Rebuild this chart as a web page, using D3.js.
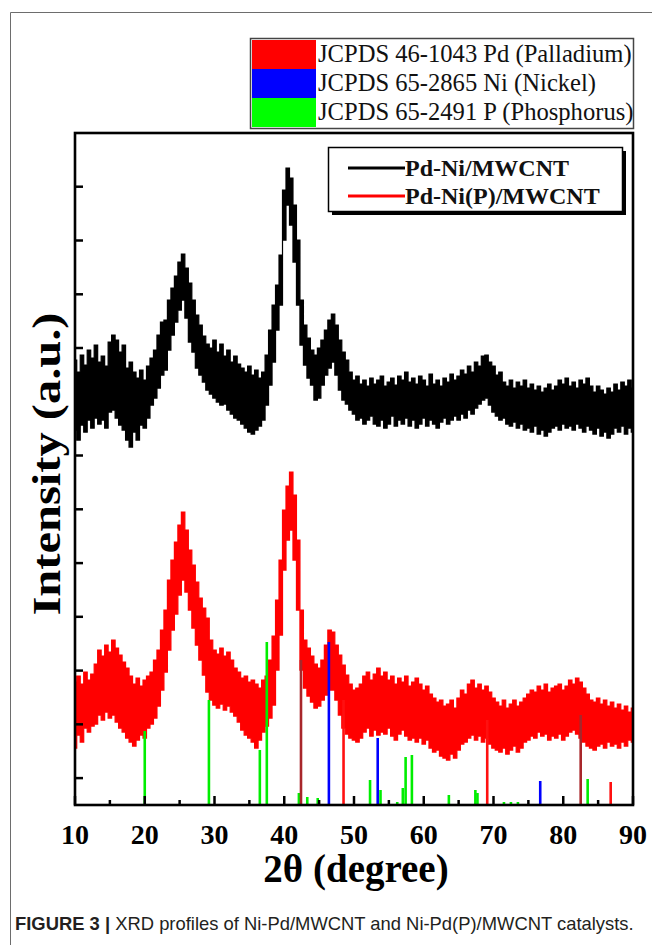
<!DOCTYPE html>
<html><head><meta charset="utf-8">
<script src="https://cdn.jsdelivr.net/npm/d3@7"></script>
<style>
html,body{margin:0;padding:0;background:#fff;}
svg{display:block;}
</style></head>
<body>
<svg id="chart" width="652" height="945"></svg>
<script>
// ---------- DATA ----------
const thetaStart = 10, thetaStep = 0.5;   // sampling grid of the traces (2θ, degrees)
const xTickLabels = ["10","20","30","40","50","60","70","80","90"];
const xTickValues = [10,20,30,40,50,60,70,80,90];
const xMinorTicks = [15,25,35,45,55,65,75,85];
const yTickValues = [0,53.76,107.5,161.3,215,268.8,322.6,376.3,430.1,483.8,537.6,591.4];

// Pd-Ni/MWCNT (black) : upper / lower envelope of the noisy trace, a.u.
const blackHi = [
 418,406,423,413,428,420,433,416,422,412,
 436,443,438,426,433,410,416,406,400,408,
 398,412,420,428,443,456,458,478,490,502,
 516,524,510,495,478,463,453,442,434,430,
 438,426,434,422,428,416,422,414,410,406,
 412,403,408,400,406,423,448,473,493,523,
 588,610,600,573,538,478,453,440,428,423,
 430,438,448,458,464,453,438,426,418,406,
 398,402,394,398,392,400,394,398,402,392,
 396,400,393,402,398,406,396,400,394,402,
 398,392,404,394,398,392,400,396,404,398,
 402,408,404,412,406,416,412,422,423,416,
 412,403,406,396,392,398,390,396,392,398,
 390,394,388,392,386,390,394,388,392,398,
 394,400,392,396,390,398,394,400,392,386,
 392,388,384,390,386,394,388,396,392,398,
 390];
const blackLo = [
 348,338,353,346,358,350,360,354,358,350,
 366,368,360,353,348,338,331,346,338,353,
 350,360,373,380,390,403,408,428,443,456,
 468,478,460,436,426,410,403,396,388,384,
 380,376,373,374,368,364,360,358,354,350,
 346,344,348,352,358,373,393,416,448,473,
 538,573,553,516,473,433,413,400,393,378,
 380,393,403,410,416,403,388,378,374,368,
 364,358,360,354,358,362,354,352,358,350,
 354,362,352,358,354,360,352,358,350,354,
 360,352,358,354,350,356,360,354,358,362,
 358,364,360,368,364,370,374,378,380,373,
 366,362,358,360,354,352,356,350,354,348,
 350,346,352,344,348,342,346,350,352,348,
 354,350,352,348,354,350,346,352,348,344,
 350,342,346,340,344,350,346,352,344,350,
 346];

// Pd-Ni(P)/MWCNT (red)
const redHi = [
 96,102,94,106,98,104,114,128,122,133,
 126,138,130,123,116,110,102,94,100,92,
 98,102,106,118,128,148,168,198,218,236,
 253,266,248,228,213,196,180,170,160,138,
 128,124,130,122,126,118,110,106,100,102,
 96,98,94,90,98,102,118,142,178,218,
 268,292,306,283,238,168,138,130,122,114,
 110,118,133,148,146,133,123,113,103,94,
 88,90,94,102,106,98,104,110,102,106,
 98,102,94,100,96,102,92,96,100,94,
 88,92,84,80,76,78,72,74,78,70,
 80,88,84,94,98,90,94,88,92,86,
 80,76,72,78,70,74,78,72,76,80,
 84,88,86,92,88,94,86,90,92,94,
 88,92,98,94,100,96,90,84,78,76,
 80,74,78,72,76,70,74,68,72,66,
 70];
const redLo = [
 30,43,36,50,46,52,54,63,58,66,
 60,63,56,50,46,40,36,32,38,43,
 40,50,54,60,72,88,106,128,148,164,
 183,198,186,168,150,133,118,103,86,78,
 73,70,74,68,72,66,62,56,48,43,
 40,36,30,38,46,52,60,73,108,143,
 208,238,248,218,168,108,90,82,76,70,
 72,78,83,88,88,78,63,50,44,40,
 38,36,40,46,50,42,48,43,46,44,
 50,42,38,44,48,42,38,40,36,40,
 34,38,30,26,28,22,20,18,24,20,
 28,34,36,40,43,38,42,36,40,34,
 30,28,26,30,24,28,32,26,30,36,
 38,42,40,46,42,44,38,42,40,44,
 38,42,46,48,44,40,36,32,30,28,
 32,34,30,36,32,34,30,36,32,38,
 36];

// Reference patterns (stick positions 2θ and relative heights)
const pdTheta = [42.4, 48.5, 69.1, 82.5, 86.8];
const pdInt   = [145, 105, 85, 90, 23];
const niTheta = [46.4, 53.4, 76.7];
const niInt   = [163, 67, 24];
const pTheta  = [20.0, 29.2, 36.5, 37.5, 42.1, 43.3, 44.8, 52.3, 53.8, 56.2, 57.0, 57.4, 58.3, 63.6, 67.4, 67.7, 71.5, 72.5, 73.5, 83.5];
const pInt    = [74, 105, 55, 163, 12, 8, 7, 25, 15, 3, 17, 48, 50, 10, 15, 12, 3, 3, 3, 26];

const refLegend = ["JCPDS 46-1043 Pd (Palladium)", "JCPDS 65-2865 Ni (Nickel)", "JCPDS 65-2491 P (Phosphorus)"];
const seriesNames = ["Pd-Ni/MWCNT", "Pd-Ni(P)/MWCNT"];

// ---------- DRAW ----------
const svg = d3.select("#chart");
const L = 75, R = 633, T = 133, B = 805;
const x = d3.scaleLinear().domain([10, 90]).range([L, R]);
const y = d3.scaleLinear().domain([-26.9, 645.1]).range([B, T]);
const yRef = d3.scaleLinear().domain([0, 672]).range([B, T]);
const serif = "'Liberation Serif','Times New Roman',Times,serif";
const sans = "'Liberation Sans',Arial,Helvetica,sans-serif";

// outer figure frame
svg.append("path").attr("d", `M10.5,945 V12.5 H652`).attr("fill","none").attr("stroke","#6d6d6d").attr("stroke-width",1);

const thetaOf = i => thetaStart + i*thetaStep;
function band(hi, lo, color){
  const pts = hi.map((h,i)=>({t:thetaOf(i), h, l:lo[i]}));
  const area = d3.area().curve(d3.curveStep).x(d=>x(d.t)).y0(d=>y(d.l)).y1(d=>y(d.h));
  svg.append("path").datum(pts).attr("d", area).attr("fill", color).attr("stroke", color).attr("stroke-width",1.2);
}
band(blackHi, blackLo, "#000");
band(redHi, redLo, "#ff0000");

// reference sticks
function sticks(th, inten, color, dark){
  svg.append("g").selectAll("line").data(th).join("line")
    .attr("x1", d=>x(d)).attr("x2", d=>x(d))
    .attr("y1", yRef(0)).attr("y2", (d,i)=>yRef(inten[i]))
    .attr("stroke", (d,i)=> dark && dark.has(i) ? "#a8262a" : color).attr("stroke-width", 2.6);
}
sticks(pTheta, pInt, "#00ee00");
sticks(niTheta, niInt, "#0000ff");
sticks(pdTheta, pdInt, "#ff1010", new Set([0,3]));

// axes ticks (inward)
const gx = svg.append("g");
gx.selectAll("line.maj").data(xTickValues).join("line").attr("class","maj")
  .attr("x1",d=>x(d)).attr("x2",d=>x(d)).attr("y1",B).attr("y2",B-9).attr("stroke","#000").attr("stroke-width",2.5);
gx.selectAll("line.min").data(xMinorTicks).join("line").attr("class","min")
  .attr("x1",d=>x(d)).attr("x2",d=>x(d)).attr("y1",B).attr("y2",B-5).attr("stroke","#000").attr("stroke-width",2.5);
gx.selectAll("text").data(xTickValues).join("text")
  .attr("x",d=>x(d)).attr("y",B+39).attr("text-anchor","middle")
  .attr("font-family",serif).attr("font-weight","bold").attr("font-size",28)
  .text((d,i)=>xTickLabels[i]);
const gy = svg.append("g");
gy.selectAll("line").data(yTickValues).join("line")
  .attr("x1",L).attr("x2",L+8).attr("y1",d=>y(d)).attr("y2",d=>y(d)).attr("stroke","#000").attr("stroke-width",2.5);

// frame
svg.append("rect").attr("x",L).attr("y",T).attr("width",R-L).attr("height",B-T)
  .attr("fill","none").attr("stroke","#000").attr("stroke-width",2.6);

// axis titles
svg.append("text").attr("x",(L+R)/2 + 2).attr("y",882).attr("text-anchor","middle")
  .attr("font-family",serif).attr("font-weight","bold").attr("font-size",39).text("2θ (degree)");
svg.append("text").attr("transform",`translate(60,${464}) rotate(-90)`).attr("text-anchor","middle")
  .attr("font-family",serif).attr("font-weight","bold").attr("font-size",40)
  .attr("textLength",303).attr("lengthAdjust","spacingAndGlyphs").text("Intensity (a.u.)");

// reference legend (top)
const lg = svg.append("g");
const lgColors = ["#ff0000","#0000ff","#00ff00"];
lg.append("rect").attr("x",250.5).attr("y",38.5).attr("width",383).attr("height",90).attr("fill","#fff").attr("stroke","#444").attr("stroke-width",1.5);
refLegend.forEach((t,i)=>{
  lg.append("rect").attr("x",252).attr("y",40+i*29).attr("width",64).attr("height",29).attr("fill",lgColors[i]);
  lg.append("text").attr("x",318).attr("y",62+i*29).attr("font-family",serif).attr("font-size",24.6).attr("fill","#111").text(t);
});

// series legend
const sl = svg.append("g");
sl.append("rect").attr("x",332).attr("y",151).attr("width",294).attr("height",64).attr("fill","#000");
sl.append("rect").attr("x",328.5).attr("y",147.5).attr("width",294).attr("height",64).attr("fill","#fff").attr("stroke","#000").attr("stroke-width",1.5);
const slColors = ["#000","#ff0000"];
seriesNames.forEach((t,i)=>{
  sl.append("line").attr("x1",348).attr("x2",405).attr("y1",168+i*28).attr("y2",168+i*28).attr("stroke",slColors[i]).attr("stroke-width",3);
  sl.append("text").attr("x",405).attr("y",176+i*28).attr("font-family",serif).attr("font-weight","bold").attr("font-size",24).attr("fill","#111").text(t);
});

// caption
const cap = svg.append("text").attr("x",15).attr("y",930).attr("font-family",sans).attr("font-size",18.4).attr("fill","#231f20");
cap.append("tspan").attr("font-weight","bold").text("FIGURE 3 | ");
cap.append("tspan").text("XRD profiles of Ni-Pd/MWCNT and Ni-Pd(P)/MWCNT catalysts.");
</script>
</body></html>
